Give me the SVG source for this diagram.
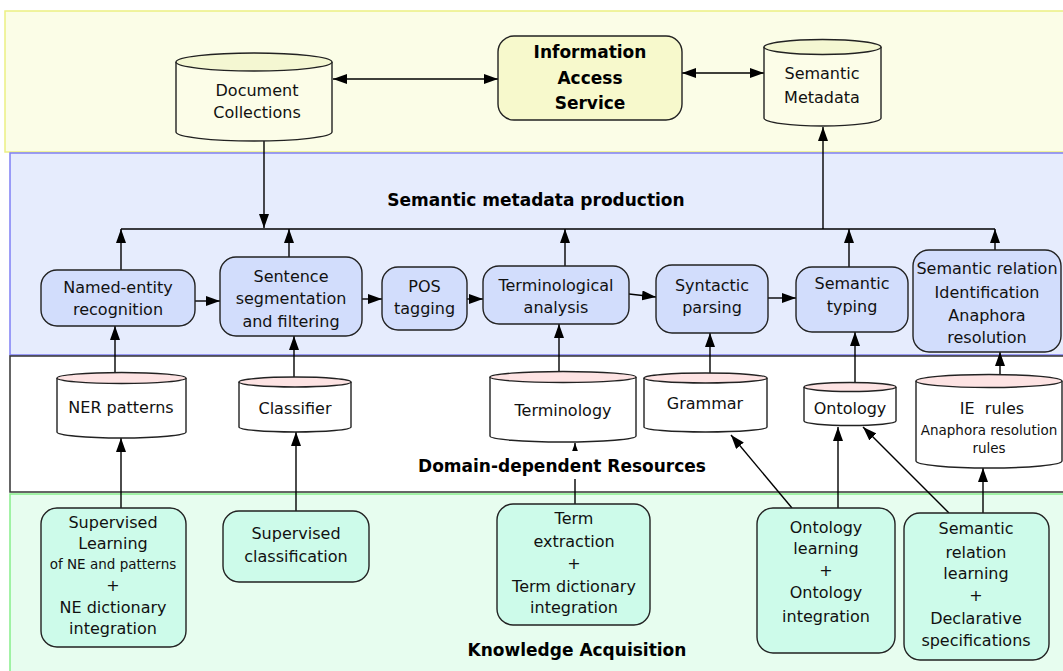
<svg xmlns="http://www.w3.org/2000/svg" width="1063" height="671" viewBox="0 0 1063 671">
<style>
.t{font-family:"DejaVu Sans","Liberation Sans",sans-serif;font-size:16px;fill:#111;text-anchor:middle}
.s{font-size:13.5px}
.b{font-family:"DejaVu Sans","Liberation Sans",sans-serif;font-weight:bold;font-size:17px;fill:#000;text-anchor:middle}
.bl{fill:#d2ddfc;stroke:#222;stroke-width:1.4}
.gr{fill:#cdfbea;stroke:#222;stroke-width:1.4}
.ye{fill:#f7f9cc;stroke:#222;stroke-width:1.4}
.cyb{stroke:#222;stroke-width:1.4;fill:#fff}
.cyt{stroke:#222;stroke-width:1.4;fill:#fde3e3}
.cyy{stroke:#222;stroke-width:1.4;fill:#fcfde8}
.cyyt{stroke:#222;stroke-width:1.4;fill:#f4f7d2}
.c{stroke:#000;stroke-width:1.4;fill:none}
.a{marker-end:url(#ah)}
.d{marker-start:url(#ah);marker-end:url(#ah)}
</style>
<defs>
<marker id="ah" viewBox="0 0 14 10" refX="14" refY="5" markerWidth="14" markerHeight="10" markerUnits="userSpaceOnUse" orient="auto-start-reverse"><path d="M0,0 L14,5 L0,10 z" fill="#000"/></marker>
</defs>
<rect x="0" y="0" width="1063" height="671" fill="#fff"/>
<!-- bands -->
<g id="bands">
<rect x="5" y="11" width="1070" height="141" fill="#fbfde7" stroke="#ecef82" stroke-width="1.5"/>
<rect x="10" y="153" width="1065" height="202" fill="#e6ecfd" stroke="#7f7ff5" stroke-width="1.5"/>
<rect x="10" y="356" width="1065" height="136" fill="#fff" stroke="#333" stroke-width="1.5"/>
<rect x="10" y="494" width="1065" height="185" fill="#e7fdef" stroke="#86ee8a" stroke-width="1.5"/>
</g>
<!-- connectors -->
<g id="connectors">
<line class="c d" x1="333" y1="79" x2="498" y2="79"/>
<line class="c d" x1="682" y1="73" x2="764" y2="73"/>
<line class="c a" x1="264" y1="141" x2="264" y2="228"/>
<polyline class="c" points="121,229 995,229"/>
<line class="c a" x1="823" y1="229" x2="823" y2="127"/>
<line class="c a" x1="121" y1="270" x2="121" y2="229"/>
<line class="c a" x1="289" y1="257" x2="289" y2="229"/>
<line class="c a" x1="565" y1="266" x2="565" y2="229"/>
<line class="c a" x1="849" y1="267" x2="849" y2="229"/>
<line class="c a" x1="995" y1="250" x2="995" y2="229"/>
<line class="c a" x1="195" y1="301" x2="220" y2="301"/>
<line class="c a" x1="362" y1="299" x2="382" y2="299"/>
<line class="c a" x1="467" y1="299" x2="483" y2="299"/>
<line class="c a" x1="629" y1="294" x2="656" y2="297"/>
<line class="c a" x1="768" y1="298" x2="796" y2="298"/>
<line class="c a" x1="115" y1="373" x2="115" y2="326"/>
<line class="c a" x1="294" y1="380" x2="294" y2="336"/>
<line class="c a" x1="559" y1="372" x2="559" y2="324"/>
<line class="c a" x1="710" y1="373" x2="710" y2="333"/>
<line class="c a" x1="855" y1="383" x2="855" y2="332"/>
<line class="c a" x1="1000" y1="375" x2="1000" y2="352"/>
<line class="c a" x1="121" y1="508" x2="121" y2="438"/>
<line class="c a" x1="296" y1="511" x2="296" y2="432"/>
<line class="c a" x1="575" y1="504" x2="575" y2="443"/>
<line class="c a" x1="792" y1="508" x2="731" y2="435"/>
<line class="c a" x1="838" y1="508" x2="838" y2="427"/>
<line class="c a" x1="949" y1="513" x2="863" y2="427"/>
<line class="c a" x1="983" y1="513" x2="983" y2="468"/>
</g>
<!-- section labels -->
<g id="labels">
<text class="b" x="536" y="206">Semantic metadata production</text>
<rect x="416" y="451" width="292" height="28" fill="#fff"/>
<text class="b" x="562" y="472">Domain-dependent Resources</text>
<text class="b" x="577" y="656">Knowledge Acquisition</text>
</g>
<!-- top layer -->
<g id="doc-collections">
<path class="cyy" d="M176,62 L176,132 A78,9 0 0 0 332,132 L332,62"/>
<ellipse class="cyyt" cx="254" cy="62" rx="78" ry="9"/>
<text class="t" x="257" y="96">Document</text>
<text class="t" x="257" y="118">Collections</text>
</g>
<g id="info-access">
<rect class="ye" x="498" y="36" width="184" height="84" rx="16"/>
<text class="b" x="590" y="58">Information</text>
<text class="b" x="590" y="84">Access</text>
<text class="b" x="590" y="109">Service</text>
</g>
<g id="semantic-metadata">
<path class="cyy" d="M764,47 L764,118 A58.5,8 0 0 0 881,118 L881,47"/>
<ellipse class="cyyt" cx="822.5" cy="47" rx="58.5" ry="7.5"/>
<text class="t" x="822" y="79">Semantic</text>
<text class="t" x="822" y="103">Metadata</text>
</g>
<!-- processing -->
<g id="ner">
<rect class="bl" x="41" y="270" width="154" height="56" rx="16"/>
<text class="t" x="118" y="293">Named-entity</text>
<text class="t" x="118" y="315">recognition</text>
</g>
<g id="sentence">
<rect class="bl" x="220" y="257" width="142" height="79" rx="16"/>
<text class="t" x="291" y="282">Sentence</text>
<text class="t" x="291" y="304">segmentation</text>
<text class="t" x="291" y="327">and filtering</text>
</g>
<g id="pos">
<rect class="bl" x="382" y="267" width="85" height="63" rx="16"/>
<text class="t" x="424.5" y="292">POS</text>
<text class="t" x="424.5" y="314">tagging</text>
</g>
<g id="terminological">
<rect class="bl" x="483" y="266" width="146" height="58" rx="16"/>
<text class="t" x="556" y="291">Terminological</text>
<text class="t" x="556" y="313">analysis</text>
</g>
<g id="syntactic">
<rect class="bl" x="656" y="265" width="112" height="68" rx="16"/>
<text class="t" x="712" y="291">Syntactic</text>
<text class="t" x="712" y="313">parsing</text>
</g>
<g id="semantic-typing">
<rect class="bl" x="796" y="267" width="112" height="65" rx="16"/>
<text class="t" x="852" y="289">Semantic</text>
<text class="t" x="852" y="312">typing</text>
</g>
<g id="semantic-relation">
<rect class="bl" x="913" y="250" width="148" height="102" rx="16"/>
<text class="t" x="987" y="274">Semantic relation</text>
<text class="t" x="987" y="298">Identification</text>
<text class="t" x="987" y="321">Anaphora</text>
<text class="t" x="987" y="343">resolution</text>
</g>
<!-- resources -->
<g id="ner-patterns">
<path class="cyb" d="M57,378 L57,432 A64.5,6 0 0 0 186,432 L186,378"/>
<ellipse class="cyt" cx="121.5" cy="378" rx="64.5" ry="5.5"/>
<text class="t" x="121" y="413">NER patterns</text>
</g>
<g id="classifier">
<path class="cyb" d="M239,382 L239,427 A56,5 0 0 0 351,427 L351,382"/>
<ellipse class="cyt" cx="295" cy="382" rx="56" ry="5"/>
<text class="t" x="295" y="414">Classifier</text>
</g>
<g id="terminology">
<path class="cyb" d="M490,377 L490,436 A73,6 0 0 0 636,436 L636,377"/>
<ellipse class="cyt" cx="563" cy="377" rx="73" ry="5.5"/>
<text class="t" x="563" y="416">Terminology</text>
</g>
<g id="grammar">
<path class="cyb" d="M644,378 L644,427 A61.5,5 0 0 0 767,427 L767,378"/>
<ellipse class="cyt" cx="705.5" cy="378" rx="61.5" ry="5"/>
<text class="t" x="705" y="409">Grammar</text>
</g>
<g id="ontology">
<path class="cyb" d="M804,387 L804,421 A46,4.5 0 0 0 896,421 L896,387"/>
<ellipse class="cyt" cx="850" cy="387" rx="46" ry="4.5"/>
<text class="t" x="850" y="414">Ontology</text>
</g>
<g id="ie-rules">
<path class="cyb" d="M916,381 L916,461 A73,7 0 0 0 1062,461 L1062,381"/>
<ellipse class="cyt" cx="989" cy="381" rx="73" ry="6.5"/>
<text class="t" x="992" y="414" xml:space="preserve">IE  rules</text>
<text class="t s" x="989" y="435">Anaphora resolution</text>
<text class="t s" x="989" y="453">rules</text>
</g>
<!-- acquisition -->
<g id="supervised-learning">
<rect class="gr" x="41" y="508" width="145" height="139" rx="16"/>
<text class="t" x="113" y="528">Supervised</text>
<text class="t" x="113" y="549">Learning</text>
<text class="t s" x="113" y="569">of NE and patterns</text>
<text class="t" x="113" y="591">+</text>
<text class="t" x="113" y="613">NE dictionary</text>
<text class="t" x="113" y="634">integration</text>
</g>
<g id="supervised-classification">
<rect class="gr" x="223" y="511" width="146" height="71" rx="16"/>
<text class="t" x="296" y="539">Supervised</text>
<text class="t" x="296" y="562">classification</text>
</g>
<g id="term-extraction">
<rect class="gr" x="497" y="504" width="153" height="121" rx="16"/>
<text class="t" x="574" y="524">Term</text>
<text class="t" x="574" y="547">extraction</text>
<text class="t" x="574" y="569">+</text>
<text class="t" x="574" y="592">Term dictionary</text>
<text class="t" x="574" y="613">integration</text>
</g>
<g id="ontology-learning">
<rect class="gr" x="757" y="508" width="138" height="145" rx="16"/>
<text class="t" x="826" y="533">Ontology</text>
<text class="t" x="826" y="554">learning</text>
<text class="t" x="826" y="576">+</text>
<text class="t" x="826" y="598">Ontology</text>
<text class="t" x="826" y="622">integration</text>
</g>
<g id="semantic-relation-learning">
<rect class="gr" x="904" y="513" width="145" height="147" rx="16"/>
<text class="t" x="976" y="534">Semantic</text>
<text class="t" x="976" y="558">relation</text>
<text class="t" x="976" y="579">learning</text>
<text class="t" x="976" y="601">+</text>
<text class="t" x="976" y="624">Declarative</text>
<text class="t" x="976" y="646">specifications</text>
</g>
</svg>
